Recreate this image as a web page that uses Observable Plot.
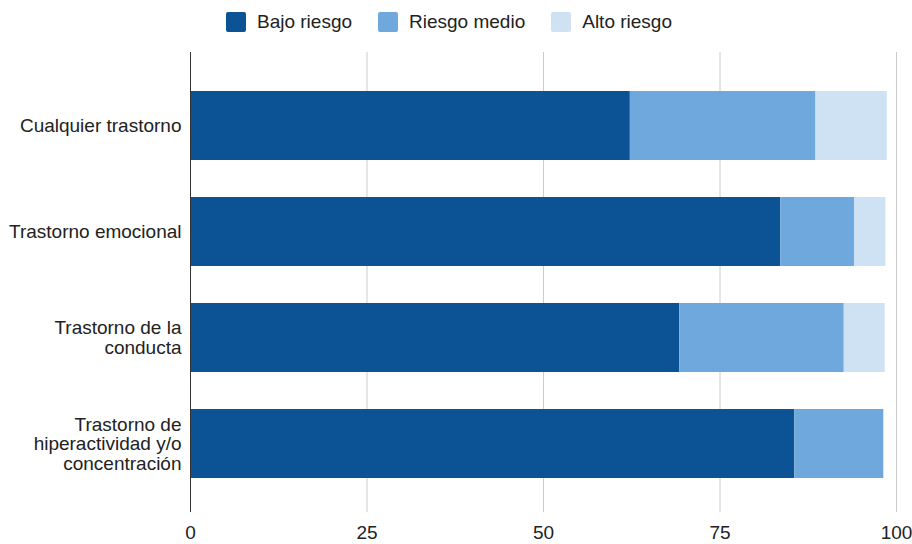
<!DOCTYPE html>
<html>
<head>
<meta charset="utf-8">
<script src="https://cdn.jsdelivr.net/npm/d3@7"></script>
<script src="https://cdn.jsdelivr.net/npm/@observablehq/plot@0.6"></script>
<style>
  html, body { margin: 0; padding: 0; background: #fff; }
  body { width: 912px; height: 544px; overflow: hidden; font-family: "Liberation Sans", Arial, sans-serif; }
  #legend { height: 40px; display: flex; align-items: center; justify-content: center; padding-right: 14px; box-sizing: border-box; padding-top: 4px; font-size: 19px; color: #222; }
  .item { display: flex; align-items: center; margin: 0 13px; }
  .sw { width: 20px; height: 20px; border-radius: 2px; margin-right: 11px; }
</style>
</head>
<body>
<div id="legend"></div>
<div id="chart"></div>
<script>
const categories = ["Cualquier trastorno", "Trastorno emocional", "Trastorno de la conducta", "Trastorno de hiperactividad y/o concentración"];
const categoryLabels = ["Cualquier trastorno", "Trastorno emocional", "Trastorno de la\nconducta", "Trastorno de\nhiperactividad y/o\nconcentración"];
const series = ["Bajo riesgo", "Riesgo medio", "Alto riesgo"];
const bajo = [62.3, 83.6, 69.3, 85.6];
const medio = [26.3, 10.5, 23.3, 12.6];
const alto = [10.1, 4.4, 5.8, 0.1];
const colors = ["#0b5394", "#6fa8dc", "#cfe2f3"];
const xTicks = [0, 25, 50, 75, 100];

const values = [bajo, medio, alto];
const data = [];
series.forEach((s, si) => categories.forEach((c, ci) => data.push({cat: c, riesgo: s, value: values[si][ci]})));

const legend = document.getElementById("legend");
series.forEach((s, i) => {
  const it = document.createElement("div");
  it.className = "item";
  it.innerHTML = `<div class="sw" style="background:${colors[i]}"></div><span>${s}</span>`;
  legend.appendChild(it);
});

const labelMap = new Map(categories.map((c, i) => [c, categoryLabels[i]]));

const chart = Plot.plot({
  width: 912,
  height: 504,
  marginTop: 12,
  marginBottom: 32,
  marginLeft: 190,
  marginRight: 16,
  style: {fontFamily: "Liberation Sans, Arial, sans-serif", fontSize: "19px", color: "#222", background: "#fff", overflow: "visible"},
  x: {domain: [0, 100]},
  y: {domain: categories, paddingInner: 0.35, paddingOuter: 0.175, insetTop: 19, insetBottom: 15},
  color: {domain: series, range: colors},
  marks: [
    Plot.ruleX(xTicks.slice(1), {stroke: "#cccccc", strokeWidth: 1}),
    Plot.barX(data, Plot.stackX({y: "cat", x: "value", fill: "riesgo", order: series})),
    Plot.ruleX([0], {stroke: "#333", strokeWidth: 1}),
    Plot.axisX({ticks: xTicks, tickSize: 0, tickPadding: 13, label: null, fontSize: 19}),
    Plot.axisY({tickSize: 0, tickPadding: 9, label: null, tickFormat: d => labelMap.get(d), lineHeight: 1.04, fontSize: 19})
  ]
});
document.getElementById("chart").appendChild(chart);
</script>
</body>
</html>
